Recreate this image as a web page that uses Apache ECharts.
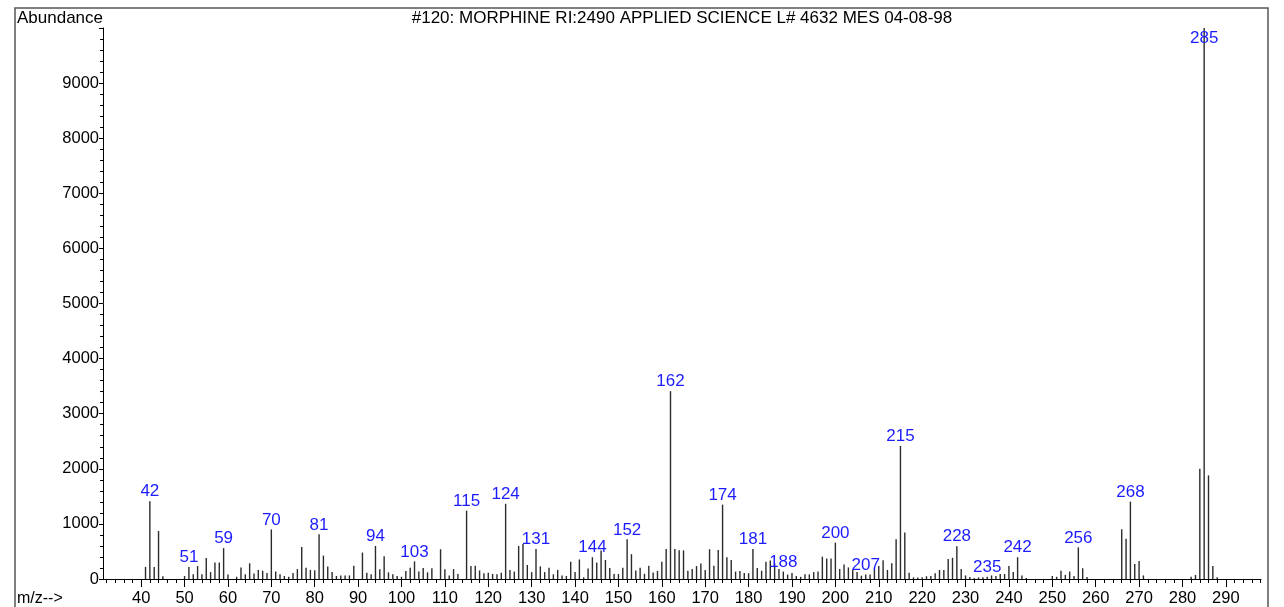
<!DOCTYPE html>
<html>
<head>
<meta charset="utf-8">
<title>Morphine mass spectrum</title>
<script src="https://cdn.jsdelivr.net/npm/echarts@6/dist/echarts.min.js"></script>
<style>
  html, body { margin: 0; padding: 0; background: #fff; }
  #chart { width: 1284px; height: 607px; }
</style>
</head>
<body>
<div id="chart"></div>
<script>
// m/z values and abundances
var mzValues = [
  41, 42, 43, 44, 45, 50, 51, 52, 53, 54, 55, 56, 57, 58, 59, 60, 62, 63, 64, 65,
  66, 67, 68, 69, 70, 71, 72, 73, 74, 75, 76, 77, 78, 79, 80, 81, 82, 83, 84, 85,
  86, 87, 88, 89, 91, 92, 93, 94, 95, 96, 97, 98, 99, 100, 101, 102, 103, 104, 105, 106,
  107, 109, 110, 111, 112, 113, 115, 116, 117, 118, 119, 120, 121, 122, 123, 124, 125, 126, 127, 128,
  129, 130, 131, 132, 133, 134, 135, 136, 137, 138, 139, 140, 141, 142, 143, 144, 145, 146, 147, 148,
  149, 150, 151, 152, 153, 154, 155, 156, 157, 158, 159, 160, 161, 162, 163, 164, 165, 166, 167, 168,
  169, 170, 171, 172, 173, 174, 175, 176, 177, 178, 179, 180, 181, 182, 183, 184, 185, 186, 187, 188,
  189, 190, 191, 192, 193, 194, 195, 196, 197, 198, 199, 200, 201, 202, 203, 204, 205, 206, 207, 208,
  209, 210, 211, 212, 213, 214, 215, 216, 217, 218, 219, 220, 221, 222, 223, 224, 225, 226, 227, 228,
  229, 230, 231, 232, 233, 234, 235, 236, 237, 238, 239, 240, 241, 242, 243, 244, 250, 251, 252, 253,
  254, 255, 256, 257, 258, 266, 267, 268, 269, 270, 271, 282, 283, 284, 285, 286, 287, 288
];
var abundance = [
  220, 1410, 220, 870, 50, 55, 220, 85, 235, 85, 380, 125, 300, 300, 560, 80, 40, 210, 85, 285,
  100, 165, 150, 110, 900, 135, 85, 55, 40, 110, 180, 580, 205, 165, 160, 810, 425, 225, 125, 55,
  65, 65, 65, 240, 480, 115, 85, 600, 175, 415, 120, 85, 55, 40, 145, 205, 320, 135, 200, 120,
  195, 540, 175, 65, 180, 90, 1240, 235, 240, 155, 105, 115, 90, 85, 115, 1365, 165, 135, 600, 635,
  255, 125, 545, 230, 125, 205, 85, 165, 65, 55, 315, 125, 355, 30, 190, 395, 300, 515, 345, 200,
  90, 90, 205, 720, 450, 155, 205, 95, 240, 120, 145, 315, 545, 3410, 545, 520, 520, 150, 180, 235,
  280, 165, 540, 240, 525, 1350, 395, 345, 135, 145, 110, 105, 545, 200, 150, 315, 335, 285, 180, 135,
  80, 110, 55, 40, 85, 85, 125, 135, 405, 370, 370, 660, 180, 265, 210, 170, 125, 60, 80, 80,
  165, 235, 340, 165, 285, 720, 2415, 845, 115, 30, 25, 30, 50, 55, 105, 165, 165, 365, 385, 595,
  180, 65, 35, 20, 30, 30, 40, 65, 55, 90, 90, 235, 125, 395, 65, 20, 55, 40, 150, 75,
  135, 55, 575, 195, 35, 905, 730, 1405, 270, 325, 65, 40, 75, 2000, 9999, 1880, 235, 30
];
// peaks that carry an m/z label in the plot
var labeledPeaks = [42, 51, 59, 70, 81, 94, 103, 115, 124, 131, 144, 152, 162, 174, 181, 188, 200, 207, 215, 228, 235, 242, 256, 268, 285];

// x range of the plot box, and the ranges covered by minor (every 2) and labelled (every 10) ticks
var xMin = 31.2, xMax = 298.1;
var minorTickRange = [32, 298];
var majorTickRange = [40, 290];
var yMax = 10000, yStep = 1000;

var FONT = '"Liberation Sans", Arial, sans-serif';
var chart = echarts.init(document.getElementById('chart'));

var plotLeft = 103, plotRight = 1261, plotTop = 28, plotBottom = 28;
var pxPerUnit = (plotRight - plotLeft) / (xMax - xMin);
function px(m) { return plotLeft + (m - xMin) * pxPerUnit; }
// grid that spans exactly [a, b] of the m/z scale, so the tick axis can start on a multiple of its interval
function subGrid(range) {
  return { left: px(range[0]), right: 1284 - px(range[1]), top: plotTop, bottom: plotBottom };
}

var barData = mzValues.map(function (m, i) {
  var item = { value: [m, abundance[i]] };
  if (labeledPeaks.indexOf(m) >= 0) {
    item.label = {
      show: true,
      position: m === 285 ? 'insideTop' : 'top',
      distance: m === 285 ? 2 : 1,
      formatter: String(m)
    };
  }
  return item;
});

var option = {
  animation: false,
  backgroundColor: '#fff',
  grid: [
    { left: plotLeft, right: 1284 - plotRight, top: plotTop, bottom: plotBottom },
    subGrid(minorTickRange),
    subGrid(majorTickRange)
  ],
  xAxis: [{
    type: 'value',
    gridIndex: 0,
    min: xMin,
    max: xMax,
    axisLine: { lineStyle: { color: '#000', width: 1 } },
    axisTick: { show: false },
    axisLabel: { show: false },
    splitLine: { show: false }
  }, {
    type: 'value',
    gridIndex: 1,
    min: minorTickRange[0],
    max: minorTickRange[1],
    interval: 2,
    axisLine: { show: false },
    axisTick: { length: 4, lineStyle: { color: '#000' } },
    axisLabel: { show: false },
    splitLine: { show: false }
  }, {
    type: 'value',
    gridIndex: 2,
    min: majorTickRange[0],
    max: majorTickRange[1],
    interval: 10,
    axisLine: { show: false },
    axisTick: { length: 8, lineStyle: { color: '#000' } },
    axisLabel: { margin: 11, fontSize: 16.5, color: '#000', fontFamily: FONT },
    splitLine: { show: false }
  }],
  yAxis: [{
    type: 'value',
    gridIndex: 0,
    min: 0,
    max: yMax,
    interval: yStep,
    axisLine: { show: true, lineStyle: { color: '#000', width: 1 } },
    axisTick: { show: true, length: 4, lineStyle: { color: '#000' } },
    minorTick: { show: true, splitNumber: 5, length: 3, lineStyle: { color: '#000' } },
    axisLabel: {
      margin: 4, fontSize: 16.5, color: '#000', fontFamily: FONT,
      formatter: function (v) { return v >= yMax ? '' : String(v); }
    },
    splitLine: { show: false }
  },
  { type: 'value', gridIndex: 1, min: 0, max: yMax, show: false },
  { type: 'value', gridIndex: 2, min: 0, max: yMax, show: false }],
  series: [{
    type: 'bar',
    xAxisIndex: 0,
    yAxisIndex: 0,
    barWidth: 1.4,
    itemStyle: { color: '#2b2b2b' },
    label: { color: '#1c1cff', fontSize: 17, fontFamily: FONT },
    data: barData
  }],
  graphic: [
    { type: 'rect', shape: { x: 15, y: 8, width: 1253, height: 640 },
      style: { fill: null, stroke: '#555', lineWidth: 1.5 }, silent: true },
    { type: 'text', x: 17, y: 18,
      style: { text: 'Abundance', font: '17px ' + FONT, fill: '#000', textVerticalAlign: 'middle' } },
    { type: 'text', x: 682, y: 18,
      style: { text: '#120: MORPHINE RI:2490 APPLIED SCIENCE L# 4632 MES 04-08-98', font: '17px ' + FONT,
               fill: '#000', textAlign: 'center', textVerticalAlign: 'middle' } },
    { type: 'text', x: 17, y: 599,
      style: { text: 'm/z-->', font: '16px ' + FONT, fill: '#000', textVerticalAlign: 'middle' } }
  ]
};

chart.setOption(option);
</script>
</body>
</html>
